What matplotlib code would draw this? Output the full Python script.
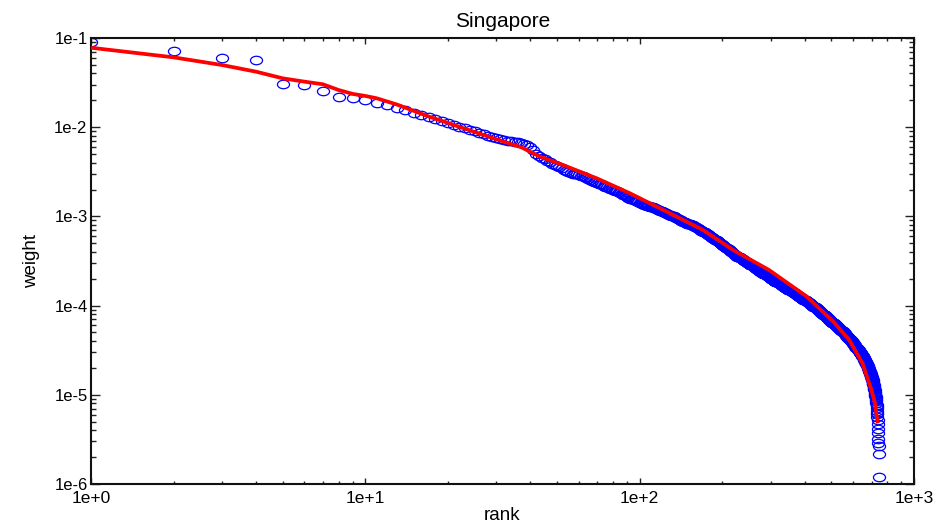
import matplotlib
matplotlib.use("Agg")
import matplotlib.pyplot as plt
import numpy as np
from matplotlib.path import Path
from matplotlib.ticker import FixedLocator, FixedFormatter, LogLocator, NullFormatter

plt.rcParams['font.family'] = ['Liberation Sans', 'DejaVu Sans']

title = "Singapore"
x_label = "rank"
y_label = "weight"

x_tick_values = [1, 10, 100, 1000]
x_tick_labels = ["1e+0", "1e+1", "1e+2", "1e+3"]
y_tick_values = [1e-6, 1e-5, 1e-4, 1e-3, 1e-2, 1e-1]
y_tick_labels = ["1e-6", "1e-5", "1e-4", "1e-3", "1e-2", "1e-1"]

# observed weights, sorted by rank (rank = position + 1)
weights = [
    8.91e-2, 7.08e-2, 6.03e-2, 5.62e-2, 3.02e-2, 2.95e-2, 2.57e-2, 2.19e-2, 2.14e-2, 2.00e-2,
    1.88e-2, 1.78e-2, 1.66e-2, 1.55e-2, 1.46e-2, 1.38e-2, 1.29e-2, 1.23e-2, 1.17e-2, 1.12e-2,
    1.06e-2, 1.01e-2, 9.77e-3, 9.33e-3, 9.02e-3, 8.71e-3, 8.32e-3, 8.04e-3, 7.76e-3, 7.59e-3,
    7.41e-3, 7.24e-3, 7.08e-3, 7.00e-3, 6.84e-3, 6.76e-3, 6.61e-3, 6.46e-3, 6.31e-3, 6.03e-3,
    5.50e-3, 5.01e-3, 4.79e-3, 4.57e-3, 4.37e-3, 4.17e-3, 4.07e-3, 3.89e-3, 3.80e-3, 3.63e-3,
    3.55e-3, 3.47e-3, 3.31e-3, 3.24e-3, 3.16e-3, 3.09e-3, 3.02e-3, 3.02e-3, 2.95e-3, 2.88e-3,
    2.82e-3, 2.82e-3, 2.75e-3, 2.69e-3, 2.63e-3, 2.57e-3, 2.51e-3, 2.45e-3, 2.40e-3, 2.34e-3,
    2.29e-3, 2.29e-3, 2.24e-3, 2.19e-3, 2.14e-3, 2.14e-3, 2.09e-3, 2.04e-3, 2.04e-3, 2.00e-3,
    1.95e-3, 1.91e-3, 1.91e-3, 1.86e-3, 1.82e-3, 1.78e-3, 1.74e-3, 1.74e-3, 1.70e-3, 1.66e-3,
    1.62e-3, 1.58e-3, 1.55e-3, 1.55e-3, 1.51e-3, 1.51e-3, 1.48e-3, 1.48e-3, 1.45e-3, 1.41e-3,
    1.41e-3, 1.38e-3, 1.38e-3, 1.35e-3, 1.35e-3, 1.32e-3, 1.32e-3, 1.32e-3, 1.29e-3, 1.29e-3,
    1.26e-3, 1.26e-3, 1.23e-3, 1.23e-3, 1.20e-3, 1.20e-3, 1.17e-3, 1.17e-3, 1.15e-3, 1.15e-3,
    1.15e-3, 1.12e-3, 1.12e-3, 1.10e-3, 1.10e-3, 1.07e-3, 1.07e-3, 1.05e-3, 1.05e-3, 1.02e-3,
    1.02e-3, 1.00e-3, 1.00e-3, 9.77e-4, 9.77e-4, 9.55e-4, 9.55e-4, 9.33e-4, 9.33e-4, 9.12e-4,
    9.12e-4, 8.91e-4, 8.91e-4, 8.71e-4, 8.71e-4, 8.71e-4, 8.51e-4, 8.51e-4, 8.32e-4, 8.32e-4,
    8.32e-4, 8.13e-4, 8.13e-4, 7.94e-4, 7.94e-4, 7.94e-4, 7.76e-4, 7.76e-4, 7.59e-4, 7.59e-4,
    7.59e-4, 7.41e-4, 7.41e-4, 7.24e-4, 7.24e-4, 7.08e-4, 7.08e-4, 6.92e-4, 6.92e-4, 6.76e-4,
    6.76e-4, 6.61e-4, 6.61e-4, 6.46e-4, 6.46e-4, 6.31e-4, 6.31e-4, 6.17e-4, 6.17e-4, 6.03e-4,
    6.03e-4, 5.89e-4, 5.89e-4, 5.75e-4, 5.75e-4, 5.62e-4, 5.62e-4, 5.50e-4, 5.50e-4, 5.37e-4,
    5.37e-4, 5.25e-4, 5.25e-4, 5.13e-4, 5.13e-4, 5.01e-4, 5.01e-4, 4.90e-4, 4.90e-4, 4.79e-4,
    4.79e-4, 4.68e-4, 4.68e-4, 4.57e-4, 4.57e-4, 4.47e-4, 4.47e-4, 4.37e-4, 4.37e-4, 4.27e-4,
    4.27e-4, 4.17e-4, 4.17e-4, 4.07e-4, 4.07e-4, 3.98e-4, 3.98e-4, 3.89e-4, 3.89e-4, 3.80e-4,
    3.80e-4, 3.72e-4, 3.72e-4, 3.72e-4, 3.63e-4, 3.63e-4, 3.55e-4, 3.55e-4, 3.55e-4, 3.47e-4,
    3.47e-4, 3.47e-4, 3.39e-4, 3.39e-4, 3.39e-4, 3.31e-4, 3.31e-4, 3.31e-4, 3.24e-4, 3.24e-4,
    3.16e-4, 3.16e-4, 3.16e-4, 3.09e-4, 3.09e-4, 3.09e-4, 3.02e-4, 3.02e-4, 3.02e-4, 2.95e-4,
    2.95e-4, 2.88e-4, 2.88e-4, 2.88e-4, 2.82e-4, 2.82e-4, 2.82e-4, 2.75e-4, 2.75e-4, 2.75e-4,
    2.69e-4, 2.69e-4, 2.69e-4, 2.63e-4, 2.63e-4, 2.57e-4, 2.57e-4, 2.57e-4, 2.51e-4, 2.51e-4,
    2.51e-4, 2.45e-4, 2.45e-4, 2.45e-4, 2.40e-4, 2.40e-4, 2.40e-4, 2.40e-4, 2.34e-4, 2.34e-4,
    2.34e-4, 2.29e-4, 2.29e-4, 2.29e-4, 2.24e-4, 2.24e-4, 2.24e-4, 2.24e-4, 2.19e-4, 2.19e-4,
    2.19e-4, 2.14e-4, 2.14e-4, 2.14e-4, 2.09e-4, 2.09e-4, 2.09e-4, 2.09e-4, 2.04e-4, 2.04e-4,
    2.00e-4, 2.00e-4, 2.00e-4, 2.00e-4, 1.95e-4, 1.95e-4, 1.95e-4, 1.95e-4, 1.91e-4, 1.91e-4,
    1.91e-4, 1.86e-4, 1.86e-4, 1.86e-4, 1.86e-4, 1.82e-4, 1.82e-4, 1.82e-4, 1.82e-4, 1.78e-4,
    1.78e-4, 1.78e-4, 1.78e-4, 1.74e-4, 1.74e-4, 1.74e-4, 1.74e-4, 1.70e-4, 1.70e-4, 1.70e-4,
    1.66e-4, 1.66e-4, 1.66e-4, 1.66e-4, 1.62e-4, 1.62e-4, 1.62e-4, 1.62e-4, 1.58e-4, 1.58e-4,
    1.58e-4, 1.58e-4, 1.55e-4, 1.55e-4, 1.55e-4, 1.55e-4, 1.51e-4, 1.51e-4, 1.51e-4, 1.51e-4,
    1.48e-4, 1.48e-4, 1.48e-4, 1.48e-4, 1.45e-4, 1.45e-4, 1.45e-4, 1.45e-4, 1.45e-4, 1.41e-4,
    1.41e-4, 1.41e-4, 1.41e-4, 1.38e-4, 1.38e-4, 1.38e-4, 1.38e-4, 1.38e-4, 1.35e-4, 1.35e-4,
    1.35e-4, 1.35e-4, 1.32e-4, 1.32e-4, 1.32e-4, 1.32e-4, 1.29e-4, 1.29e-4, 1.29e-4, 1.29e-4,
    1.29e-4, 1.26e-4, 1.26e-4, 1.26e-4, 1.26e-4, 1.23e-4, 1.23e-4, 1.23e-4, 1.23e-4, 1.23e-4,
    1.20e-4, 1.20e-4, 1.20e-4, 1.20e-4, 1.17e-4, 1.17e-4, 1.17e-4, 1.17e-4, 1.17e-4, 1.17e-4,
    1.15e-4, 1.15e-4, 1.15e-4, 1.15e-4, 1.12e-4, 1.12e-4, 1.12e-4, 1.12e-4, 1.10e-4, 1.10e-4,
    1.10e-4, 1.10e-4, 1.10e-4, 1.07e-4, 1.07e-4, 1.07e-4, 1.07e-4, 1.05e-4, 1.05e-4, 1.05e-4,
    1.05e-4, 1.02e-4, 1.02e-4, 1.02e-4, 1.02e-4, 1.00e-4, 1.00e-4, 1.00e-4, 1.00e-4, 9.77e-5,
    9.77e-5, 9.77e-5, 9.77e-5, 9.77e-5, 9.55e-5, 9.55e-5, 9.55e-5, 9.55e-5, 9.33e-5, 9.33e-5,
    9.33e-5, 9.33e-5, 9.12e-5, 9.12e-5, 9.12e-5, 9.12e-5, 8.91e-5, 8.91e-5, 8.91e-5, 8.91e-5,
    8.71e-5, 8.71e-5, 8.71e-5, 8.71e-5, 8.51e-5, 8.51e-5, 8.51e-5, 8.51e-5, 8.32e-5, 8.32e-5,
    8.32e-5, 8.32e-5, 8.13e-5, 8.13e-5, 8.13e-5, 8.13e-5, 7.94e-5, 7.94e-5, 7.94e-5, 7.94e-5,
    7.76e-5, 7.76e-5, 7.76e-5, 7.76e-5, 7.59e-5, 7.59e-5, 7.59e-5, 7.59e-5, 7.41e-5, 7.41e-5,
    7.41e-5, 7.41e-5, 7.24e-5, 7.24e-5, 7.24e-5, 7.24e-5, 7.08e-5, 7.08e-5, 7.08e-5, 7.08e-5,
    6.92e-5, 6.92e-5, 6.92e-5, 6.92e-5, 6.76e-5, 6.76e-5, 6.76e-5, 6.76e-5, 6.61e-5, 6.61e-5,
    6.61e-5, 6.61e-5, 6.46e-5, 6.46e-5, 6.46e-5, 6.46e-5, 6.46e-5, 6.31e-5, 6.31e-5, 6.31e-5,
    6.31e-5, 6.17e-5, 6.17e-5, 6.17e-5, 6.17e-5, 6.17e-5, 6.03e-5, 6.03e-5, 6.03e-5, 6.03e-5,
    5.89e-5, 5.89e-5, 5.89e-5, 5.89e-5, 5.89e-5, 5.75e-5, 5.75e-5, 5.75e-5, 5.75e-5, 5.62e-5,
    5.62e-5, 5.62e-5, 5.62e-5, 5.62e-5, 5.50e-5, 5.50e-5, 5.50e-5, 5.50e-5, 5.37e-5, 5.37e-5,
    5.37e-5, 5.37e-5, 5.37e-5, 5.25e-5, 5.25e-5, 5.25e-5, 5.25e-5, 5.13e-5, 5.13e-5, 5.13e-5,
    5.13e-5, 5.01e-5, 5.01e-5, 5.01e-5, 5.01e-5, 4.90e-5, 4.90e-5, 4.90e-5, 4.90e-5, 4.79e-5,
    4.79e-5, 4.79e-5, 4.68e-5, 4.68e-5, 4.68e-5, 4.68e-5, 4.57e-5, 4.57e-5, 4.57e-5, 4.57e-5,
    4.47e-5, 4.47e-5, 4.47e-5, 4.47e-5, 4.37e-5, 4.37e-5, 4.37e-5, 4.37e-5, 4.27e-5, 4.27e-5,
    4.27e-5, 4.17e-5, 4.17e-5, 4.17e-5, 4.17e-5, 4.07e-5, 4.07e-5, 4.07e-5, 4.07e-5, 3.98e-5,
    3.98e-5, 3.98e-5, 3.98e-5, 3.89e-5, 3.89e-5, 3.89e-5, 3.89e-5, 3.80e-5, 3.80e-5, 3.80e-5,
    3.72e-5, 3.72e-5, 3.72e-5, 3.72e-5, 3.63e-5, 3.63e-5, 3.63e-5, 3.55e-5, 3.55e-5, 3.55e-5,
    3.55e-5, 3.47e-5, 3.47e-5, 3.47e-5, 3.39e-5, 3.39e-5, 3.39e-5, 3.39e-5, 3.31e-5, 3.31e-5,
    3.31e-5, 3.31e-5, 3.24e-5, 3.24e-5, 3.24e-5, 3.16e-5, 3.16e-5, 3.16e-5, 3.16e-5, 3.09e-5,
    3.09e-5, 3.09e-5, 3.02e-5, 3.02e-5, 3.02e-5, 3.02e-5, 2.95e-5, 2.95e-5, 2.95e-5, 2.95e-5,
    2.88e-5, 2.88e-5, 2.88e-5, 2.82e-5, 2.82e-5, 2.82e-5, 2.75e-5, 2.75e-5, 2.69e-5, 2.69e-5,
    2.69e-5, 2.63e-5, 2.63e-5, 2.63e-5, 2.57e-5, 2.57e-5, 2.51e-5, 2.51e-5, 2.51e-5, 2.45e-5,
    2.45e-5, 2.45e-5, 2.40e-5, 2.40e-5, 2.34e-5, 2.34e-5, 2.34e-5, 2.29e-5, 2.29e-5, 2.29e-5,
    2.24e-5, 2.24e-5, 2.19e-5, 2.19e-5, 2.14e-5, 2.14e-5, 2.09e-5, 2.09e-5, 2.04e-5, 2.04e-5,
    2.00e-5, 2.00e-5, 1.95e-5, 1.95e-5, 1.91e-5, 1.91e-5, 1.86e-5, 1.86e-5, 1.82e-5, 1.82e-5,
    1.78e-5, 1.78e-5, 1.74e-5, 1.70e-5, 1.70e-5, 1.66e-5, 1.66e-5, 1.62e-5, 1.58e-5, 1.58e-5,
    1.55e-5, 1.55e-5, 1.51e-5, 1.51e-5, 1.48e-5, 1.45e-5, 1.41e-5, 1.38e-5, 1.35e-5, 1.32e-5,
    1.32e-5, 1.29e-5, 1.26e-5, 1.23e-5, 1.20e-5, 1.17e-5, 1.15e-5, 1.12e-5, 1.07e-5, 1.05e-5,
    1.02e-5, 1.00e-5, 9.77e-6, 9.55e-6, 9.33e-6, 8.91e-6, 8.71e-6, 8.51e-6, 8.13e-6, 7.76e-6,
    7.41e-6, 7.08e-6, 6.61e-6, 6.31e-6, 6.03e-6, 5.62e-6, 5.25e-6, 4.68e-6, 4.17e-6, 3.72e-6,
    3.16e-6, 2.88e-6, 2.69e-6, 2.19e-6, 1.20e-6,
]
ranks = list(range(1, len(weights) + 1))

# fitted curve, read at selected ranks
fit_ranks = [1, 2, 3, 4, 5, 6, 7, 8, 9, 10, 11, 13, 17, 22, 29, 37, 43, 53, 70, 92,
             122, 170, 220, 296, 407, 451, 508, 581, 649, 700, 720, 738]
fit_weights = [7.78e-2, 6.07e-2, 4.98e-2, 4.19e-2, 3.53e-2, 3.24e-2, 3.03e-2, 2.61e-2,
               2.36e-2, 2.24e-2, 2.11e-2, 1.80e-2, 1.32e-2, 1.01e-2, 7.59e-3, 5.96e-3,
               4.73e-3, 3.73e-3, 2.66e-3, 1.82e-3, 1.18e-3, 7.05e-4, 4.17e-4, 2.51e-4,
               1.26e-4, 9.33e-5, 6.61e-5, 4.11e-5, 2.25e-5, 1.13e-5, 8.13e-6, 4.79e-6]

DPI = 100
fig = plt.figure(figsize=(9.38, 5.27), dpi=DPI)
ax = fig.add_axes([91 / 938, 1 - 484 / 527, (914 - 91) / 938, (484 - 38) / 527])

circ = Path.unit_circle()
ellipse = Path(circ.vertices * np.array([1.0, 0.7]), circ.codes)

ax.plot(ranks, weights, linestyle='none', marker=ellipse, markersize=8.7,
        markerfacecolor='none', markeredgecolor='#0000ff', markeredgewidth=0.9, zorder=2)
ax.plot(fit_ranks, fit_weights, color='#ff0000', linewidth=2.7, zorder=3,
        solid_joinstyle='round', solid_capstyle='butt')

ax.set_xscale('log')
ax.set_yscale('log')
ax.set_xlim(1, 1000)
ax.set_ylim(1e-6, 1e-1)

ax.xaxis.set_major_locator(FixedLocator(x_tick_values))
ax.xaxis.set_major_formatter(FixedFormatter(x_tick_labels))
ax.yaxis.set_major_locator(FixedLocator(y_tick_values))
ax.yaxis.set_major_formatter(FixedFormatter(y_tick_labels))
ax.xaxis.set_minor_locator(LogLocator(base=10, subs=np.arange(2, 10)))
ax.yaxis.set_minor_locator(LogLocator(base=10, subs=np.arange(2, 10)))
ax.xaxis.set_minor_formatter(NullFormatter())
ax.yaxis.set_minor_formatter(NullFormatter())

ax.tick_params(axis='both', which='both', direction='in', top=True, right=True,
               width=1.0, color='#222222')
ax.tick_params(axis='x', which='major', length=4, pad=5, labelsize=12.5)
ax.tick_params(axis='x', which='minor', length=2.3)
ax.tick_params(axis='y', which='major', length=6.3, pad=2.5, labelsize=12)
ax.tick_params(axis='y', which='minor', length=3.6)
for lbl in ax.get_yticklabels():
    lbl.set_verticalalignment('center_baseline')

for s in ax.spines.values():
    s.set_linewidth(1.5)
    s.set_color('#111111')

ax.set_title(title, fontsize=15, pad=8)
ax.set_xlabel(x_label, fontsize=13.5, labelpad=1)
ax.set_ylabel(y_label, fontsize=13.5, labelpad=10)

fig.savefig("out.png", dpi=DPI)
